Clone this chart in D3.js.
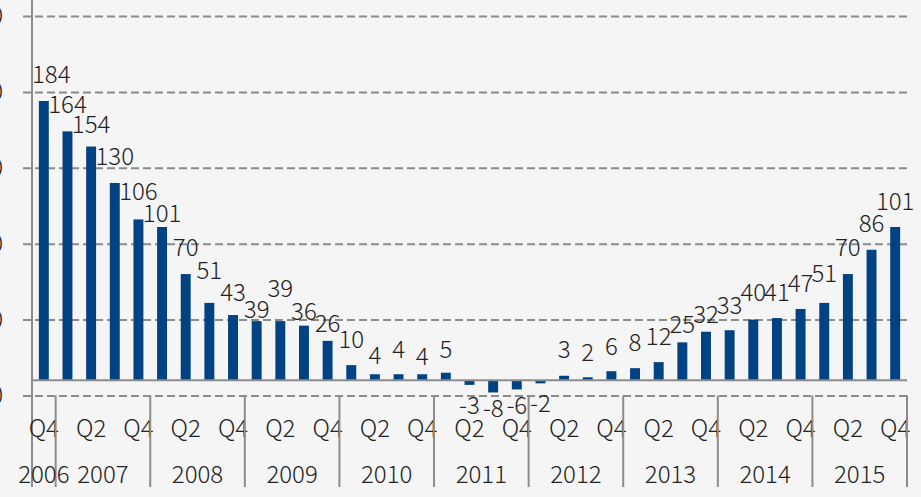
<!DOCTYPE html>
<html>
<head>
<meta charset="utf-8">
<script src="https://cdn.jsdelivr.net/npm/d3@7"></script>
<style>
  html, body { margin: 0; padding: 0; background: #f5f5f5; overflow: hidden; }
  #chart text { font-family: "Noto Sans CJK KR", "Noto Sans", sans-serif; font-weight: 300; fill: #222; }
</style>
</head>
<body>
<div id="chart"></div>
<script>
const width = 921;
const height = 497;

// data
const quarters = [
  "Q4",
  "Q1", "Q2", "Q3", "Q4",
  "Q1", "Q2", "Q3", "Q4",
  "Q1", "Q2", "Q3", "Q4",
  "Q1", "Q2", "Q3", "Q4",
  "Q1", "Q2", "Q3", "Q4",
  "Q1", "Q2", "Q3", "Q4",
  "Q1", "Q2", "Q3", "Q4",
  "Q1", "Q2", "Q3", "Q4",
  "Q1", "Q2", "Q3", "Q4"
];
const years = ["2006", "2007", "2008", "2009", "2010", "2011", "2012", "2013", "2014", "2015"];
const quartersPerYear = [1, 4, 4, 4, 4, 4, 4, 4, 4, 4];
const values = [
  184, 164, 154, 130, 106, 101, 70, 51, 43, 39, 39, 36, 26, 10, 4, 4, 4, 5,
  -3, -8, -6, -2, 3, 2, 6, 8, 12, 25, 32, 33, 40, 41, 47, 51, 70, 86, 101
];
// level (in value units) of the hidden series that carries the data labels
const labelLevels = [
  196, 176, 163, 142, 119, 104, 82, 67, 52, 41, 55, 40, 32, 21, 11, 15, 10, 15,
  -22, -24, -22, -21, 15, 13, 17, 19, 23, 31, 38, 44, 52, 52, 58, 65, 82, 98, 112
];
const yTicks = [-10, 40, 90, 140, 190, 240];

const plot = { left: 32, right: 907, top: 16, bottom: 395.5 };

const svg = d3.select("#chart")
  .append("svg")
  .attr("width", width)
  .attr("height", height);

svg.append("rect")
  .attr("width", width)
  .attr("height", height)
  .attr("fill", "#f5f5f5");

const cats = d3.range(values.length);

const x = d3.scaleBand()
  .domain(cats)
  .range([plot.left, plot.right])
  .padding(0);

const y = d3.scaleLinear()
  .domain([yTicks[0], yTicks[yTicks.length - 1]])
  .range([plot.bottom, plot.top]);

//gridlines + y tick labels (cut off at the left edge, like the original)
const yAxis = svg.append("g")
  .attr("class", "y axis")
  .attr("transform", "translate(" + plot.right + ",0)")
  .call(d3.axisLeft(y).tickValues(yTicks).tickSize(plot.right - 22).tickPadding(22 - 3));
yAxis.select(".domain").remove();
yAxis.selectAll("line")
  .attr("stroke", "#8c8c8c")
  .attr("stroke-width", 2)
  .attr("stroke-dasharray", "8,4");
yAxis.selectAll("text")
  .style("font-size", "24px");

//bars
const barW = x.bandwidth() * 0.42;
svg.append("g")
  .selectAll("rect")
  .data(values)
  .join("rect")
  .attr("x", (d, i) => x(i) + (x.bandwidth() - barW) / 2)
  .attr("y", d => y(Math.max(0, d)))
  .attr("width", barW)
  .attr("height", d => Math.abs(y(d) - y(0)))
  .attr("fill", "#004282");

//value labels
svg.append("g")
  .selectAll("text")
  .data(values)
  .join("text")
  .text(d => d)
  .attr("x", (d, i) => x(i) + x.bandwidth() / 2)
  .attr("y", (d, i) => y(labelLevels[i]))
  .attr("text-anchor", "middle")
  .style("font-size", "24px")
  .each(function () {
    // keep labels inside the plot area
    const b = this.getBBox();
    if (b.x < plot.left) {
      d3.select(this).attr("x", +d3.select(this).attr("x") + (plot.left - b.x));
    }
  });

//zero line
svg.append("line")
  .attr("x1", plot.left)
  .attr("x2", plot.right)
  .attr("y1", y(0))
  .attr("y2", y(0))
  .attr("stroke", "#8c8c8c")
  .attr("stroke-width", 2);

//vertical axis line
svg.append("line")
  .attr("x1", plot.left)
  .attr("x2", plot.left)
  .attr("y1", 0)
  .attr("y2", 487)
  .attr("stroke", "#8c8c8c")
  .attr("stroke-width", 2);

//quarter labels (every second one)
svg.append("g")
  .selectAll("text")
  .data(quarters.map((q, i) => ({ q, i })).filter(d => d.i % 2 === 0))
  .join("text")
  .text(d => d.q)
  .attr("x", d => x(d.i) + x.bandwidth() / 2)
  .attr("y", 437)
  .attr("text-anchor", "middle")
  .style("font-size", "24px");

//year groups
let start = 0;
const groups = years.map((yr, k) => {
  const g = { year: yr, first: start, last: start + quartersPerYear[k] - 1 };
  start += quartersPerYear[k];
  return g;
});

svg.append("g")
  .selectAll("line")
  .data(groups)
  .join("line")
  .attr("x1", d => x(d.last) + x.bandwidth())
  .attr("x2", d => x(d.last) + x.bandwidth())
  .attr("y1", plot.bottom)
  .attr("y2", 487)
  .attr("stroke", "#8c8c8c")
  .attr("stroke-width", 2);

svg.append("g")
  .selectAll("text")
  .data(groups)
  .join("text")
  .text(d => d.year)
  .attr("x", d => (x(d.first) + x(d.last) + x.bandwidth()) / 2)
  .attr("y", 483)
  .attr("text-anchor", "middle")
  .style("font-size", "24px");
</script>
</body>
</html>
